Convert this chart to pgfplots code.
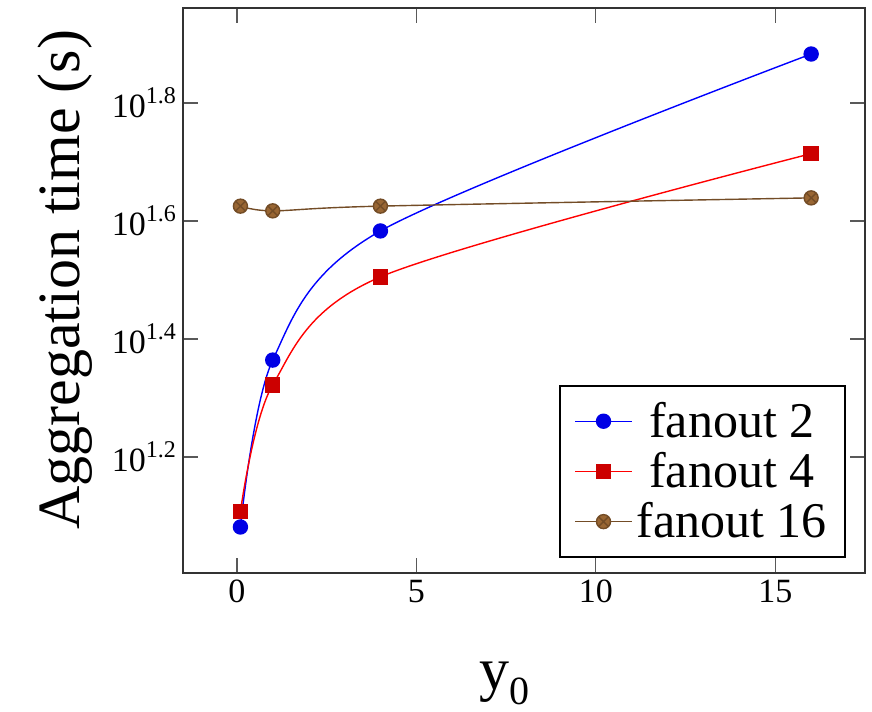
\documentclass[border=0pt]{standalone}
\usepackage{fontspec}
\setmainfont{Liberation Serif}
\usepackage{pgfplots}
\pgfplotsset{compat=1.18}

\newcommand{\pw}[1]{10\raisebox{0.42em}{\fontsize{12}{14}\selectfont #1}}

\begin{document}
\begin{tikzpicture}
\begin{axis}[
scale only axis,
width=341pt,
height=282.5pt,
ymode=log,
xmin=-1.5, xmax=17.5,
ymin=10.07, ymax=91.4,
xtick={0,5,10,15},
ytick={15.8489,25.1189,39.8107,63.0957},
yticklabels={\pw{1.2},\pw{1.4},\pw{1.6},\pw{1.8}},
minor ytick={},
/pgf/number format/assume math mode=true,
ticklabel style={font=\fontsize{17}{20}\selectfont},
major tick length=7.5pt,
tick style={line width=0.7pt, gray!70!black},
axis line style={line width=1.2pt, black!80},
xlabel={y\raisebox{-0.25em}{\fontsize{20}{24}\selectfont 0}},
xlabel style={font=\fontsize{30}{36}\selectfont, at={(axis description cs:0.472,-0.195)}, anchor=center},
ylabel={Aggregation time (s)},
ylabel style={font=\fontsize{30}{36}\selectfont, at={(axis description cs:-0.173,0.519)}, anchor=center},
every axis plot/.append style={line width=0.7pt, mark size=3.5pt},
legend style={at={(0.972,0.027)}, anchor=south east,
    font=\fontsize{25}{30}\selectfont, draw=black, line width=1pt,
    row sep=2pt, inner xsep=7pt, inner ysep=6pt},
legend cell align=center,
legend image code/.code={
    \draw[mark repeat=2,mark phase=2] plot coordinates {(0cm,0cm)(0.5cm,0cm)(1cm,0cm)};},
]

\addplot[blue, smooth, mark=*, mark options={fill=blue!90!black, draw=blue!90!black}]
coordinates {(0.1,12.05)(1,23.12)(4,38.28)(16,76.38)};
\addlegendentry{fanout 2}

\addplot[red, smooth, mark=square*, mark options={fill=red!80!black, draw=red!80!black}]
coordinates {(0.1,12.79)(1,20.99)(4,31.99)(16,51.76)};
\addlegendentry{fanout 4}

\addplot[brown!60!black, smooth, mark=otimes*, mark options={fill=brown!80!black, draw=brown!60!black}]
coordinates {(0.1,42.17)(1,41.40)(4,42.17)(16,43.55)};
\addlegendentry{fanout 16}

\end{axis}
\path (current axis.south west) +(-91.5pt,-64.5pt);
\path (current axis.north east) +(3.5pt,4pt);
\end{tikzpicture}
\end{document}
